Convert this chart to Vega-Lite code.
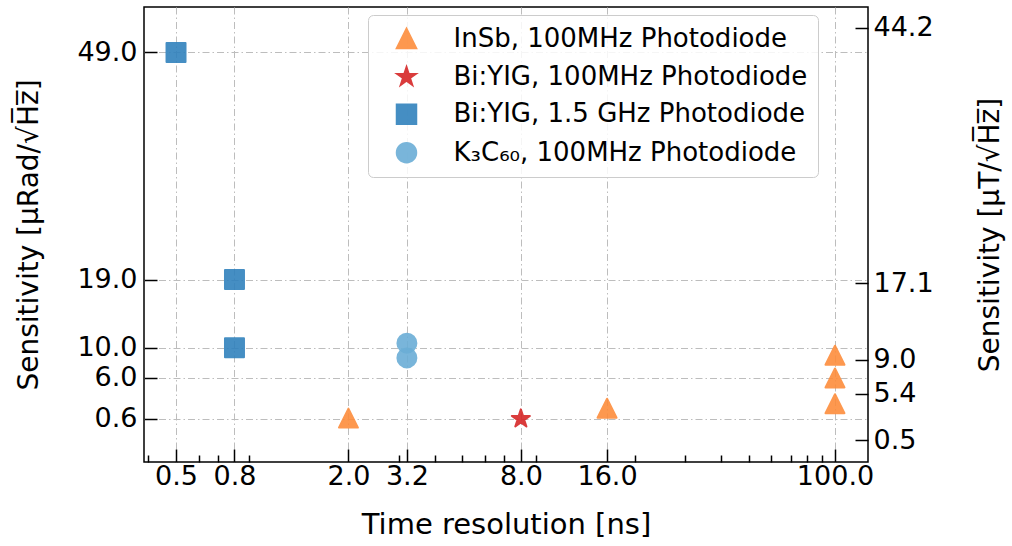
{
  "$schema": "https://vega.github.io/schema/vega-lite/v6.json",
  "width": 724,
  "height": 455,
  "autosize": {"type": "none"},
  "padding": {"left": 144, "top": 7, "right": 144, "bottom": 84},
  "background": "white",
  "config": {
    "font": "DejaVu Sans",
    "view": {"stroke": "black", "strokeWidth": 1.5},
    "axis": {
      "labelFont": "DejaVu Sans",
      "labelFontSize": 27,
      "labelColor": "black",
      "labelOverlap": false,
      "labelBound": false,
      "titleFont": "DejaVu Sans",
      "titleFontSize": 28,
      "titleFontWeight": "normal",
      "titleColor": "black",
      "tickColor": "black",
      "tickWidth": 1.5,
      "domain": false,
      "gridColor": "#bdbdbd",
      "gridDash": [7, 3, 1.5, 3],
      "gridWidth": 1
    }
  },
  "layer": [
    {
      "data": {
        "values": [
          {"t": 2.0, "s": 0.7, "series": "InSb, 100MHz Photodiode"},
          {"t": 16.0, "s": 2.0, "series": "InSb, 100MHz Photodiode"},
          {"t": 100.0, "s": 9.0, "series": "InSb, 100MHz Photodiode"},
          {"t": 100.0, "s": 6.0, "series": "InSb, 100MHz Photodiode"},
          {"t": 100.0, "s": 2.6, "series": "InSb, 100MHz Photodiode"},
          {"t": 8.0, "s": 0.6, "series": "Bi:YIG, 100MHz Photodiode"},
          {"t": 0.5, "s": 49.0, "series": "Bi:YIG, 1.5 GHz Photodiode"},
          {"t": 0.8, "s": 19.0, "series": "Bi:YIG, 1.5 GHz Photodiode"},
          {"t": 0.8, "s": 10.0, "series": "Bi:YIG, 1.5 GHz Photodiode"},
          {"t": 3.2, "s": 10.6, "series": "K₃C₆₀, 100MHz Photodiode"},
          {"t": 3.2, "s": 8.65, "series": "K₃C₆₀, 100MHz Photodiode"}
        ]
      },
      "mark": {"type": "point", "filled": true, "size": 360, "opacity": 0.9, "strokeWidth": 2, "strokeJoin": "round"},
      "encoding": {
        "x": {
          "field": "t", "type": "quantitative",
          "scale": {"type": "log", "domain": [0.3865, 130.4], "nice": false},
          "axis": {
            "orient": "bottom",
            "values": [0.5, 0.8, 2, 3.2, 8, 16, 100],
            "format": ".1f",
            "grid": true,
            "tickSize": -13,
            "labelPadding": 14,
            "title": "Time resolution [ns]",
            "titleFontSize": 29,
            "titlePadding": 21
          }
        },
        "y": {
          "field": "s", "type": "quantitative",
          "scale": {"domain": [-5.1, 55], "nice": false, "zero": false},
          "axis": {
            "orient": "left",
            "values": [0.6, 6, 10, 19, 49],
            "format": ".1f",
            "grid": true,
            "tickSize": -13,
            "labelPadding": 20,
            "title": "Sensitivity [μRad/√H̅z̅]",
            "titlePadding": 33
          }
        },
        "color": {
          "field": "series", "type": "nominal",
          "scale": {
            "domain": ["InSb, 100MHz Photodiode", "Bi:YIG, 100MHz Photodiode", "Bi:YIG, 1.5 GHz Photodiode", "K₃C₆₀, 100MHz Photodiode"],
            "range": ["#fd8d3c", "#d62728", "#3182bd", "#6baed6"]
          },
          "legend": {
            "orient": "none", "legendX": 224, "legendY": 8, "title": null,
            "labelFont": "DejaVu Sans", "labelFontSize": 26, "labelColor": "black", "labelLimit": 600,
            "symbolSize": 380, "rowPadding": 10.4, "padding": 10.5,
            "fillColor": "rgba(255,255,255,0.85)", "strokeColor": "#cccccc", "cornerRadius": 5,
            "labelOffset": 34, "symbolOffset": 15, "symbolStrokeWidth": 2
          }
        },
        "stroke": {
          "field": "series", "type": "nominal",
          "scale": {
            "domain": ["InSb, 100MHz Photodiode", "Bi:YIG, 100MHz Photodiode", "Bi:YIG, 1.5 GHz Photodiode", "K₃C₆₀, 100MHz Photodiode"],
            "range": ["#fd8d3c", "#d62728", "#3182bd", "#6baed6"]
          }
        },
        "shape": {
          "field": "series", "type": "nominal",
          "scale": {
            "domain": ["InSb, 100MHz Photodiode", "Bi:YIG, 100MHz Photodiode", "Bi:YIG, 1.5 GHz Photodiode", "K₃C₆₀, 100MHz Photodiode"],
            "range": ["M0,-1L1,1L-1,1Z", "M0,-1L0.2245,-0.309L0.9511,-0.309L0.3633,0.118L0.5878,0.809L0,0.382L-0.5878,0.809L-0.3633,0.118L-0.9511,-0.309L-0.2245,-0.309Z", "square", "circle"]
          }
        }
      }
    },
    {
      "data": {"values": [{"t": 1.0, "r": 0.5}, {"t": 1.0, "r": 44.2}]},
      "mark": {"type": "point", "opacity": 0},
      "encoding": {
        "x": {
          "field": "t", "type": "quantitative",
          "scale": {"type": "log", "domain": [0.3865, 130.4], "nice": false},
          "axis": {
            "orient": "bottom",
            "values": [0.4, 0.6, 0.7, 0.9, 3, 4, 5, 6, 7, 9, 20, 30, 40, 50, 60, 70, 80, 90],
            "labels": false,
            "grid": false,
            "tickSize": -7,
            "title": null
          }
        },
        "y": {
          "field": "r", "type": "quantitative",
          "scale": {"domain": [-1.83, 46.39], "nice": false, "zero": false},
          "axis": {
            "orient": "right",
            "values": [0.5, 5.4, 9.0, 17.1, 44.2],
            "format": ".1f",
            "grid": false,
            "tickSize": -13,
            "labelPadding": 18,
            "title": "Sensitivity [μT/√H̅z̅]",
            "titleAngle": 270,
            "titlePadding": 71
          }
        }
      }
    }
  ],
  "resolve": {"scale": {"y": "independent"}, "axis": {"x": "independent", "y": "independent"}}
}
